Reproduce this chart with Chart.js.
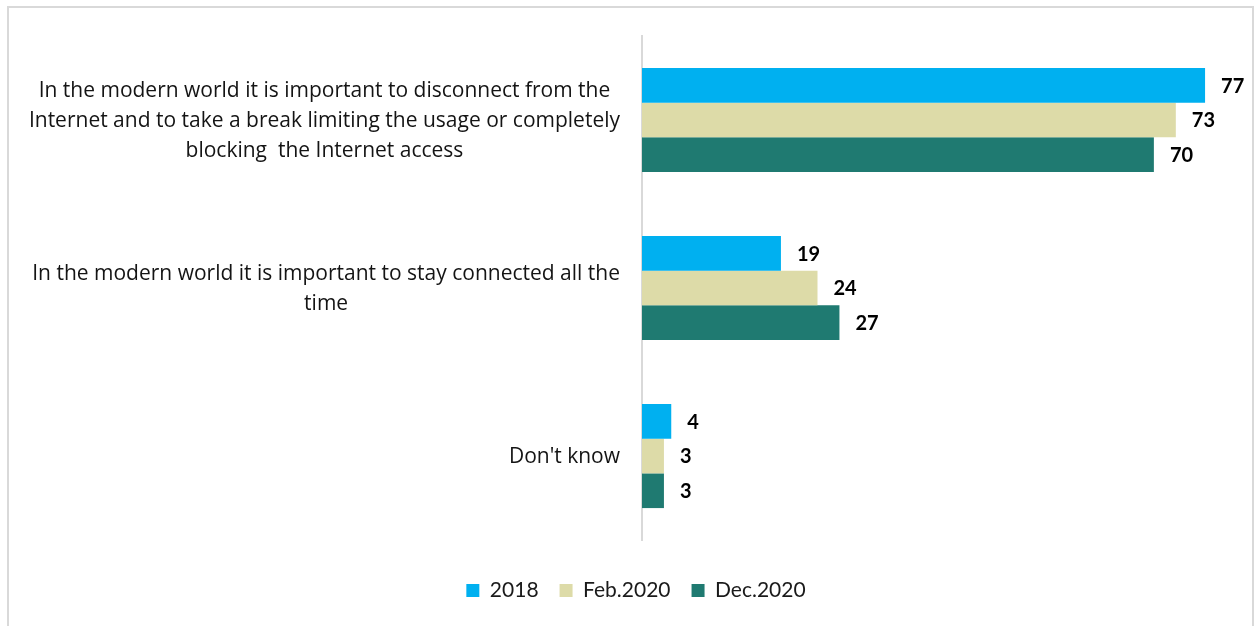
<!doctype html>
<html>
<head>
<meta charset="utf-8">
<title>Internet connection attitudes</title>
<script src="https://cdn.jsdelivr.net/npm/chart.js@4.4.1/dist/chart.umd.min.js"></script>
<style>
  html, body { margin: 0; padding: 0; background: #fff; overflow: hidden; }
  #frame {
    position: absolute; left: 7px; top: 6px; width: 1247px; height: 660px;
    border: 2px solid #d9d9d9; box-sizing: border-box;
  }
  #mycanvas { position: absolute; left: 0; top: 0; }
</style>
</head>
<body>
<div id="frame"></div>
<canvas id="mycanvas" width="1260" height="626"></canvas>

<script>
// statements, split into the lines they wrap to
var categories = [
  ["In the modern world it is important to disconnect from the",
   "Internet and to take a break limiting the usage or completely",
   "blocking  the Internet access"],
  ["In the modern world it is important to stay connected all the",
   "time"],
  ["Don't know"]
];

var seriesNames = ["2018", "Feb.2020", "Dec.2020"];
var values2018 = [77, 19, 4];
var valuesFeb2020 = [73, 24, 3];
var valuesDec2020 = [70, 27, 3];

var TEXT_FONT = "'Open Sans', sans-serif";
var NUM_FONT = "Lato, 'Open Sans', sans-serif";

// category text: block right-aligned to the axis, lines centred inside the block
var categoryText = {
  id: 'categoryText',
  afterDraw: function(chart) {
    var ctx = chart.ctx;
    var y = chart.scales.y;
    var right = chart.chartArea.left - 22;
    var lineH = 30;
    ctx.save();
    ctx.font = "21px " + TEXT_FONT;
    ctx.fillStyle = "#141414";
    ctx.textAlign = "center";
    ctx.textBaseline = "middle";
    categories.forEach(function(lines, i) {
      var w = 0;
      lines.forEach(function(l) { w = Math.max(w, ctx.measureText(l).width); });
      var cx = right - w / 2;
      var cy = y.getPixelForValue(i);
      var top = cy - (lines.length - 1) * lineH / 2;
      lines.forEach(function(l, k) { ctx.fillText(l, cx, top + k * lineH + 1); });
    });
    ctx.restore();
  }
};

// value labels at the end of each bar
var barValues = {
  id: 'barValues',
  afterDatasetsDraw: function(chart) {
    var ctx = chart.ctx;
    ctx.save();
    ctx.font = "bold 20px " + NUM_FONT;
    ctx.fillStyle = "#000";
    ctx.textAlign = "left";
    ctx.textBaseline = "middle";
    chart.data.datasets.forEach(function(ds, i) {
      chart.getDatasetMeta(i).data.forEach(function(bar, j) {
        ctx.fillText(ds.data[j], bar.x + 16, bar.y + 1);
      });
    });
    ctx.restore();
  }
};

var chartdata = {
  labels: categories.map(function(c) { return c.join(" "); }),
  datasets: [
    { label: seriesNames[0], data: values2018, backgroundColor: "#00b0f0" },
    { label: seriesNames[1], data: valuesFeb2020, backgroundColor: "#dddba8" },
    { label: seriesNames[2], data: valuesDec2020, backgroundColor: "#1f7a71" }
  ]
};

var ctx = document.getElementById("mycanvas");

var barGraph = new Chart(ctx, {
  type: 'bar',
  data: chartdata,
  plugins: [categoryText, barValues],
  options: {
    indexAxis: 'y',
    responsive: false,
    animation: false,
    layout: { padding: { left: 45, right: 33, top: 36, bottom: 15 } },
    datasets: {
      bar: { categoryPercentage: 0.62, barPercentage: 1.0 }
    },
    scales: {
      x: {
        min: 0, max: 80,
        ticks: { display: false },
        grid: { display: false, drawTicks: false },
        border: { display: false },
        afterFit: function(s) { s.height = 19; }
      },
      y: {
        ticks: { display: false },
        grid: { display: false, drawTicks: false },
        border: { display: true, color: "#d9d9d9", width: 2 },
        afterFit: function(s) { s.width = 597; }
      }
    },
    plugins: {
      tooltip: { enabled: false },
      legend: {
        position: 'bottom',
        labels: {
          boxWidth: 13, boxHeight: 13, padding: 21,
          color: "#1a1a1a",
          font: { family: NUM_FONT, size: 21 }
        }
      }
    }
  }
});
</script>
</body>
</html>
